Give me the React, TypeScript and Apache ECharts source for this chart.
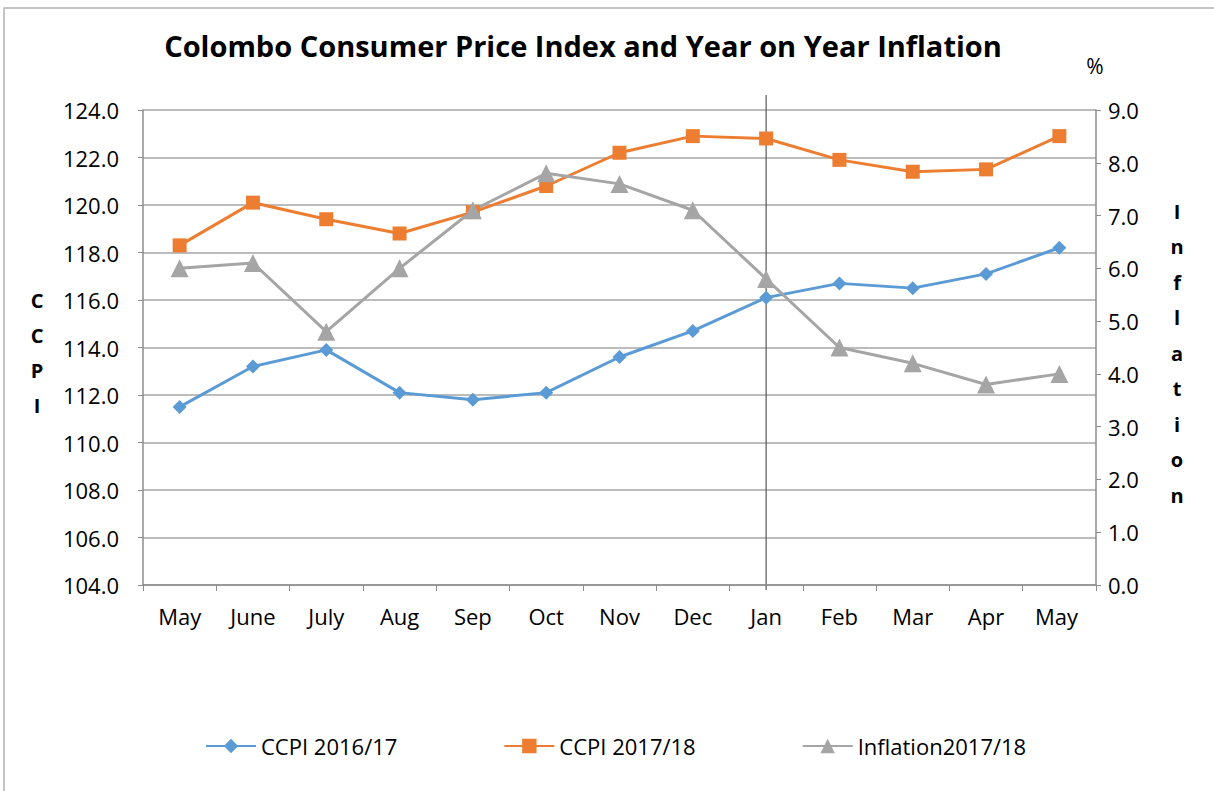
import React, { useEffect, useRef } from "react";
import * as echarts from "echarts";

const months = ["May", "June", "July", "Aug", "Sep", "Oct", "Nov", "Dec", "Jan", "Feb", "Mar", "Apr", "May "];
const ccpi1617 = [111.5, 113.2, 113.9, 112.1, 111.8, 112.1, 113.6, 114.7, 116.1, 116.7, 116.5, 117.1, 118.2];
const ccpi1718 = [118.3, 120.1, 119.4, 118.8, 119.7, 120.8, 122.2, 122.9, 122.8, 121.9, 121.4, 121.5, 122.9];
const inflation = [6.0, 6.1, 4.8, 6.0, 7.1, 7.8, 7.6, 7.1, 5.8, 4.5, 4.2, 3.8, 4.0];
const seriesNames = ["CCPI 2016/17", "CCPI 2017/18", "Inflation2017/18"];
const dividerMonth = "Jan";

const FONT = "'Open Sans', 'Noto Sans', sans-serif";

export default function App() {
  const ref = useRef<HTMLDivElement>(null);
  useEffect(() => {
    if (!ref.current) return;
    const chart = echarts.init(ref.current, null, { renderer: "svg" });
    const gridTop = 110;
    const gridBottom = 206;
    const option: any = {
      animation: false,
      backgroundColor: "#ffffff",
      title: {
        text: "Colombo Consumer Price Index and Year on Year Inflation",
        left: 578,
        textAlign: "center",
        top: 26,
        textStyle: { fontFamily: FONT, fontWeight: "bold", fontSize: 29, color: "#000" },
      },
      legend: {
        bottom: 29,
        left: 200,
        itemWidth: 50,
        itemHeight: 18,
        itemGap: 106,
        textStyle: { fontFamily: FONT, fontSize: 22, color: "#000" },
        data: seriesNames,
      },
      grid: { left: 143, right: 118, top: gridTop, bottom: gridBottom },
      xAxis: {
        type: "category",
        data: months,
        boundaryGap: true,
        axisLine: { show: true, lineStyle: { color: "#8c8c8c", width: 1.5 } },
        axisTick: { show: true, interval: 0, length: 6, lineStyle: { color: "#8c8c8c" } },
        axisLabel: { fontFamily: FONT, fontSize: 22, color: "#000", margin: 20, interval: 0 },
        splitLine: { show: false },
      },
      yAxis: [
        {
          type: "value",
          min: 104,
          max: 124,
          interval: 2,
          axisLine: { show: true, lineStyle: { color: "#8c8c8c", width: 1.5 } },
          axisTick: { show: true, length: 5, lineStyle: { color: "#8c8c8c" } },
          axisLabel: {
            fontFamily: FONT,
            fontSize: 22,
            color: "#000",
            margin: 24,
            formatter: (v: number) => v.toFixed(1),
          },
          splitLine: { show: true, lineStyle: { color: "#a6a6a6", width: 1.5 } },
        },
        {
          type: "value",
          min: 0,
          max: 9,
          interval: 1,
          position: "right",
          axisLine: { show: true, lineStyle: { color: "#8c8c8c", width: 1.5 } },
          axisTick: { show: true, length: 5, lineStyle: { color: "#8c8c8c" } },
          axisLabel: {
            fontFamily: FONT,
            fontSize: 22,
            color: "#000",
            margin: 12,
            formatter: (v: number) => v.toFixed(1),
          },
          splitLine: { show: false },
        },
      ],
      series: [
        {
          name: seriesNames[0],
          type: "line",
          data: ccpi1617,
          yAxisIndex: 0,
          symbol: "diamond",
          symbolSize: 14,
          lineStyle: { color: "#5b9bd5", width: 3 },
          itemStyle: { color: "#5b9bd5" },
        },
        {
          name: seriesNames[1],
          type: "line",
          data: ccpi1718,
          yAxisIndex: 0,
          symbol: "rect",
          symbolSize: 14,
          lineStyle: { color: "#ed7d31", width: 3 },
          itemStyle: { color: "#ed7d31" },
        },
        {
          name: seriesNames[2],
          type: "line",
          data: inflation,
          yAxisIndex: 1,
          symbol: "triangle",
          symbolSize: 18,
          lineStyle: { color: "#a5a5a5", width: 3 },
          itemStyle: { color: "#a5a5a5" },
        },
      ],
    };
    chart.setOption(option);
    const xDiv = chart.convertToPixel({ xAxisIndex: 0 }, dividerMonth) as number;
    chart.setOption({
      graphic: [
        {
          type: "rect",
          silent: true,
          z: -1,
          shape: { x: 4, y: 8, width: 1400, height: 1000 },
          style: { fill: "none", stroke: "#b3b3b3", lineWidth: 1.5 },
        },
        {
          type: "line",
          silent: true,
          shape: { x1: xDiv, y1: 95, x2: xDiv, y2: 590 },
          style: { stroke: "#595959", lineWidth: 1.2 },
        },
        {
          type: "text",
          x: 1095,
          y: 66,
          style: { text: "%", fontFamily: FONT, fontSize: 21, fill: "#000", align: "center", verticalAlign: "middle" },
        },
        {
          type: "text",
          x: 37,
          y: 353,
          style: {
            text: "C\nC\nP\nI",
            fontFamily: FONT,
            fontSize: 20,
            fontWeight: "bold",
            lineHeight: 35,
            fill: "#000",
            align: "center",
            verticalAlign: "middle",
          },
        },
        {
          type: "text",
          x: 1177,
          y: 353,
          style: {
            text: "I\nn\nf\nl\na\nt\ni\no\nn",
            fontFamily: FONT,
            fontSize: 20,
            fontWeight: "bold",
            lineHeight: 35.5,
            fill: "#000",
            align: "center",
            verticalAlign: "middle",
          },
        },
      ],
    });
    return () => chart.dispose();
  }, []);
  return (
    <div
      ref={ref}
      style={{ position: "fixed", left: 0, top: 0, width: 1214, height: 791 }}
    />
  );
}
